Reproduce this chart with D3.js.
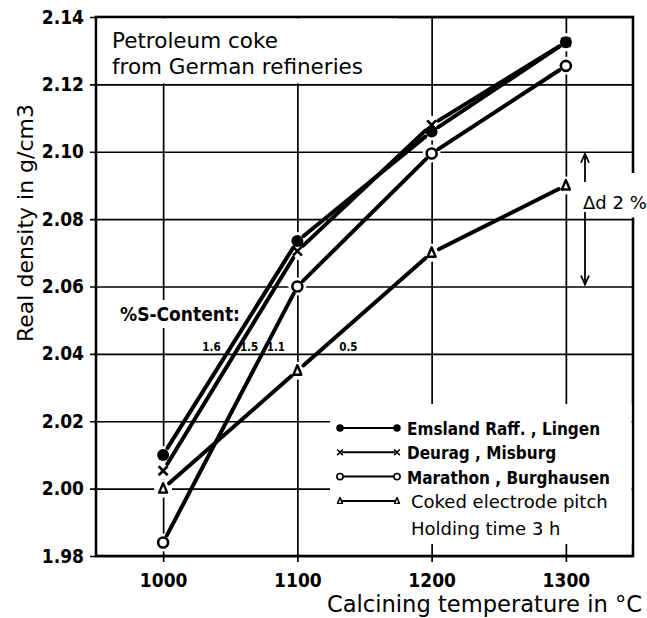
<!DOCTYPE html>
<html>
<head>
<meta charset="utf-8">
<script src="https://cdn.jsdelivr.net/npm/d3@7"></script>
<style>
  body { margin: 0; background: #fff; }
  svg { display: block; }
</style>
</head>
<body>
<script>
// data
const temps = [1000, 1100, 1200, 1300];
const emsland = [2.010, 2.0735, 2.106, 2.1325];
const deurag = [2.0053, 2.0705, 2.108, 2.1325];
const marathon = [1.984, 2.060, 2.0995, 2.1255];
const pitch = [2.000, 2.035, 2.070, 2.090];

const xTicks = [1000, 1100, 1200, 1300];
const yTicks = [1.98, 2.00, 2.02, 2.04, 2.06, 2.08, 2.10, 2.12, 2.14];

const seriesNames = ["Emsland Raff. , Lingen", "Deurag , Misburg", "Marathon , Burghausen", "Coked electrode pitch"];
const seriesKinds = ["dot", "cross", "ring", "tri"];

const sContent = ["1.6", "1.5", "1.1", "0.5"];
const sContentAt = [1036, 1064, 1084, 1138];

const W = 647, H = 618;
const bold = "'DejaVu Sans Condensed', 'DejaVu Sans', sans-serif";
const plain = "'DejaVu Sans', sans-serif";

const svg = d3.select("body").append("svg")
  .attr("width", W).attr("height", H)
  .style("background", "#fff");

const x = d3.scaleLinear().domain([950, 1350]).range([96, 633]);
const y = d3.scaleLinear().domain([1.98, 2.14]).range([556, 17]);
const [x0, x1] = x.range();
const [yb, yt] = y.range();

const boldText = (sel, size) => sel.style("font-family", bold).style("font-weight", "bold")
  .style("font-stretch", "condensed").style("font-size", size + "px").attr("fill", "#000");

// grid + ticks through the axes
const gx = svg.append("g").attr("transform", `translate(0,${yb})`)
  .call(d3.axisBottom(x).tickValues(xTicks).tickFormat(d3.format("d")).tickSizeOuter(0));
gx.select(".domain").remove();
gx.selectAll(".tick line").attr("y1", -(yb - yt)).attr("y2", 6)
  .attr("stroke", "#000").attr("stroke-width", 1.7);
boldText(gx.selectAll(".tick text").attr("y", 18), 19);

const gy = svg.append("g").attr("transform", `translate(${x0},0)`)
  .call(d3.axisLeft(y).tickValues(yTicks).tickFormat(d3.format(".2f")).tickSizeOuter(0));
gy.select(".domain").remove();
gy.selectAll(".tick line").attr("x1", x1 - x0).attr("x2", -6)
  .attr("stroke", "#000").attr("stroke-width", 1.7);
boldText(gy.selectAll(".tick text").attr("x", -12), 19);

// frame
svg.append("rect").attr("x", x0).attr("y", yt).attr("width", x1 - x0).attr("height", yb - yt)
  .attr("fill", "none").attr("stroke", "#000").attr("stroke-width", 2.6);

// white areas where the grid is broken for text
const blank = (bx, by, bw, bh) => svg.append("rect").attr("x", bx).attr("y", by)
  .attr("width", bw).attr("height", bh).attr("fill", "#fff");
blank(x0 + 1.5, yt + 1.5, 300, y(2.12) - yt - 2.5);
blank(118, 300, 128, 28);
blank(330, 404, x1 - 331.5, 140);
blank(576, 173, 71, 44.5);

// title text in the top-left box
svg.append("text").attr("x", 112).attr("y", 48)
  .style("font-family", plain).style("font-size", "21.5px").text("Petroleum coke");
svg.append("text").attr("x", 112).attr("y", 74)
  .style("font-family", plain).style("font-size", "21.5px").text("from German refineries");

// series
const series = [emsland, deurag, marathon, pitch].map((vals, i) => ({
  name: seriesNames[i],
  kind: seriesKinds[i],
  pts: vals.map((v, j) => [x(temps[j]), y(v)])
}));

// halos cut the grid around each marker
series.forEach(s => s.pts.forEach(p => {
  svg.append("circle").attr("cx", p[0]).attr("cy", p[1]).attr("r", 9).attr("fill", "#fff");
}));

// lines, shortened so they stop short of the markers
const gap = 8;
series.forEach(s => {
  for (let j = 0; j < s.pts.length - 1; j++) {
    const [ax, ay] = s.pts[j], [bx, by] = s.pts[j + 1];
    const len = Math.hypot(bx - ax, by - ay);
    const ux = (bx - ax) / len, uy = (by - ay) / len;
    svg.append("line")
      .attr("x1", ax + ux * gap).attr("y1", ay + uy * gap)
      .attr("x2", bx - ux * gap).attr("y2", by - uy * gap)
      .attr("stroke", "#000").attr("stroke-width", 4).attr("stroke-linecap", "round");
  }
});

function marker(g, kind, cx, cy, k) {
  if (kind === "dot") {
    g.append("circle").attr("cx", cx).attr("cy", cy).attr("r", 6 * k).attr("fill", "#000");
  } else if (kind === "ring") {
    g.append("circle").attr("cx", cx).attr("cy", cy).attr("r", 5 * k)
      .attr("fill", "#fff").attr("stroke", "#000").attr("stroke-width", 2.6 * k);
  } else if (kind === "cross") {
    const s = 4.5 * k;
    g.append("path").attr("d", `M${cx - s},${cy - s}L${cx + s},${cy + s}M${cx - s},${cy + s}L${cx + s},${cy - s}`)
      .attr("stroke", "#000").attr("stroke-width", 2.6 * k);
  } else {
    const s = 5 * k;
    g.append("path").attr("d", `M${cx},${cy - s * 1.1}L${cx + s * 0.8},${cy + s * 0.8}L${cx - s * 0.8},${cy + s * 0.8}Z`)
      .attr("fill", "#fff").attr("stroke", "#000").attr("stroke-width", 2.4 * k).attr("stroke-linejoin", "round");
  }
}

series.forEach(s => s.pts.forEach(p => marker(svg, s.kind, p[0], p[1], 1)));

// S-content annotation
boldText(svg.append("text").attr("x", 120).attr("y", 321), 19).text("%S-Content:");
boldText(svg.selectAll("text.sc").data(sContent).join("text").attr("class", "sc")
  .attr("x", (d, i) => x(sContentAt[i])).attr("y", y(2.04) - 3)
  .attr("text-anchor", "middle"), 11.5).text(d => d);

// delta d arrows
const ax = 585;
svg.append("line").attr("x1", ax).attr("x2", ax).attr("y1", y(2.10) + 3).attr("y2", 182)
  .attr("stroke", "#000").attr("stroke-width", 1.8);
svg.append("path").attr("d", `M${ax - 4},${y(2.10) + 11}L${ax},${y(2.10) + 2}L${ax + 4},${y(2.10) + 11}`)
  .attr("fill", "none").attr("stroke", "#000").attr("stroke-width", 1.8);
svg.append("line").attr("x1", ax).attr("x2", ax).attr("y1", 212).attr("y2", y(2.06) - 3)
  .attr("stroke", "#000").attr("stroke-width", 1.8);
svg.append("path").attr("d", `M${ax - 4},${y(2.06) - 11}L${ax},${y(2.06) - 2}L${ax + 4},${y(2.06) - 11}`)
  .attr("fill", "none").attr("stroke", "#000").attr("stroke-width", 1.8);
svg.append("text").attr("x", 583).attr("y", 209)
  .style("font-family", plain).style("font-size", "18px").text("Δd 2 %");

// legend
const lg = svg.append("g");
series.forEach((s, i) => {
  const ly = 428 + i * 24.3;
  lg.append("line").attr("x1", 342).attr("x2", 395).attr("y1", ly).attr("y2", ly)
    .attr("stroke", "#000").attr("stroke-width", 2);
  marker(lg, s.kind, 340, ly, 0.62);
  marker(lg, s.kind, 397, ly, 0.62);
  const t = lg.append("text").attr("x", 407).attr("y", ly + 7).text(s.name);
  if (i < 3) {
    boldText(t, 17);
  } else {
    t.attr("x", 411).style("font-family", plain).style("font-size", "18px");
  }
});
lg.append("text").attr("x", 411).attr("y", 535)
  .style("font-family", plain).style("font-size", "18px").text("Holding time 3 h");

// axis titles
svg.append("text").attr("x", 642).attr("y", 612).attr("text-anchor", "end")
  .style("font-family", plain).style("font-size", "22.6px").text("Calcining temperature in °C");
svg.append("text").attr("transform", "translate(33,342) rotate(-90)")
  .style("font-family", plain).style("font-size", "22px").text("Real density in g/cm3");
</script>
</body>
</html>
